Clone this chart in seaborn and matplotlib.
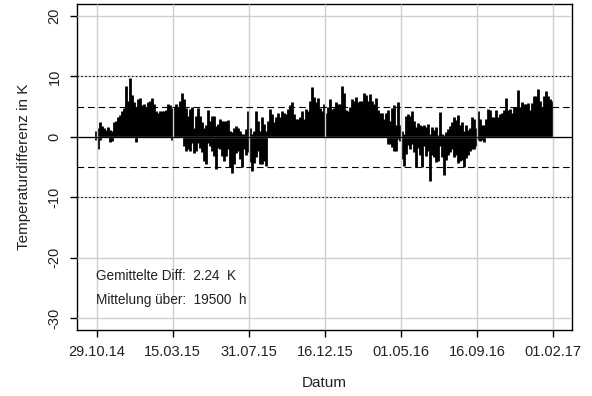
import numpy as np
import pandas as pd
import matplotlib
matplotlib.use("Agg")
import matplotlib.pyplot as plt
import seaborn as sns

# ---------------- data ----------------
start_date = "2014-10-27"
end_date = "2017-01-30"

upper = [
    1.0, 1.5, 2.5, 1.8, 1.5, 1.2, 1.6, 1.2, 1.0, 2.5,
    2.6, 3.3, 3.6, 4.2, 4.8, 8.4, 6.0, 9.8, 7.0, 5.7,
    5.0, 6.2, 6.5, 5.2, 5.5, 5.0, 5.8, 6.0, 6.5, 5.5,
    4.3, 4.0, 4.2, 4.3, 4.2, 4.5, 5.4, 5.2, 4.8, 5.0,
    5.5, 5.0, 6.0, 7.2, 6.3, 4.8, 3.5, 4.6, 4.9, 1.5,
    3.5, 4.8, 3.5, 2.5, 1.5, 2.0, 4.4, 2.7, 3.5, 3.5,
    1.8, 2.1, 2.9, 2.6, 2.6, 2.6, 2.8, 1.0, 0.8, 1.5,
    1.8, 1.5, 1.0, 0.5, 0.5, 1.3, 4.3, 1.5, 0.5, 1.0,
    4.3, 2.6, 1.0, 3.2, 2.1, 1.0, 2.6, 4.6, 3.7, 2.4,
    3.2, 4.0, 3.2, 4.3, 4.0, 3.7, 4.6, 5.2, 5.7, 3.7,
    2.9, 2.9, 3.2, 4.3, 2.9, 4.6, 4.3, 6.0, 8.2, 6.6,
    5.7, 6.5, 4.8, 4.3, 5.4, 3.9, 5.0, 6.2, 4.6, 4.8,
    5.7, 5.4, 5.5, 8.4, 7.3, 4.5, 4.3, 5.0, 6.3, 5.9,
    6.6, 5.8, 6.0, 6.0, 7.3, 7.0, 6.0, 7.1, 6.0, 5.5,
    6.4, 4.5, 4.0, 4.0, 3.0, 4.0, 4.5, 2.6, 4.7, 5.3,
    2.0, 5.7, 2.0, 1.0, 0.5, 3.5, 3.7, 3.5, 4.2, 2.6,
    1.7, 2.3, 2.0, 1.8, 1.9, 1.6, 2.2, 0.5, 1.6, 1.2,
    1.7, 0.3, 4.1, 0.5, 0.3, 0.8, 1.3, 1.8, 2.5, 3.3,
    2.8, 3.6, 2.0, 2.5, 1.0, 2.0, 1.2, 1.4, 3.2, 3.0,
    1.5, 4.2, 3.0, 2.0, 1.9, 3.0, 4.6, 4.5, 3.3, 3.3,
    4.5, 3.3, 3.7, 3.9, 4.4, 6.4, 4.5, 4.6, 4.0, 5.0,
    5.0, 7.7, 5.0, 5.7, 5.4, 5.4, 5.6, 4.4, 5.6, 6.8,
    6.8, 8.0, 6.0, 5.0, 6.8, 7.6, 6.8, 6.3, 6.0,
]

lower = [
    -0.5, -2.0, -0.5, 0, 0, 0, 0, -0.8, -0.7, 0,
    0, 0, 0, 0, 0, 0, 0, 0, 0, 0,
    -0.8, 0, 0, 0, 0, 0, 0, 0, 0, 0,
    0, 0, 0, 0, 0, 0, 0, 0, -0.5, 0,
    0, 0, 0, 0, -1.5, -2.3, -2.0, -2.4, -1.0, -2.7,
    -2.3, -1.0, -1.8, -2.5, -4.0, -4.5, -1.0, -1.5, -2.3, -3.1,
    -5.3, -1.8, -2.0, -3.1, -4.0, -3.1, -2.0, -5.0, -6.0, -4.5,
    -2.6, -2.3, -3.7, -5.0, -2.0, -3.0, -2.5, -4.2, -5.7, -4.4,
    -3.4, -2.3, -4.5, -4.5, -4.0, -4.8, 0, 0, 0, 0,
    0, 0, 0, 0, 0, 0, 0, 0, 0, 0,
    0, 0, 0, 0, 0, 0, 0, 0, 0, 0,
    0, 0, 0, 0, 0, 0, 0, 0, 0, 0,
    0, 0, 0, 0, 0, 0, 0, 0, 0, 0,
    0, 0, 0, 0, 0, 0, 0, 0, 0, 0,
    0, 0, 0, 0, 0, 0, -1.2, -1.2, -1.7, -2.3,
    -2.3, -0.3, -0.7, -3.6, -4.8, -2.9, -1.4, -2.0, -1.2, -2.5,
    -5.0, -1.8, -3.0, -5.0, -1.5, -3.1, -2.3, -7.3, -3.0, -3.3,
    -4.2, -4.0, -1.5, -3.3, -6.3, -3.8, -3.0, -2.5, -2.0, -3.3,
    -3.0, -4.3, -4.0, -3.8, -5.0, -3.5, -3.0, -2.3, -2.0, -2.0,
    -1.5, -0.5, -0.7, -0.6, -0.8, 0, 0, 0, 0, 0,
    0, 0, 0, 0, 0, 0, 0, 0, 0, 0,
    0, 0, 0, 0, 0, 0, 0, 0, 0, 0,
    0, 0, 0, 0, 0, 0, 0, 0, 0,
]

tick_labels = ["29.10.14", "15.03.15", "31.07.15", "16.12.15",
               "01.05.16", "16.09.16", "01.02.17"]
y_ticks = [20, 10, 0, -10, -20, -30]
mean_diff = "2.24"
avg_hours = "19500"

# ---------------- figure ----------------
sns.set_theme(style="white")
plt.rcParams["font.family"] = ["Liberation Sans", "DejaVu Sans"]
plt.rcParams["lines.solid_capstyle"] = "butt"

dates = pd.date_range(start_date, end_date, periods=len(upper))
rows = []
uid = 0
for d, u, l in zip(dates, upper, lower):
    for v in (u, l):
        if v != 0:
            rows.append((d, 0.0, uid))
            rows.append((d, v, uid))
            uid += 1
df = pd.DataFrame(rows, columns=["Datum", "Diff", "unit"])

fig = plt.figure(figsize=(5.92, 3.96), dpi=100)
fig.patch.set_facecolor("white")
ax = fig.add_axes([77 / 592, 1 - 330 / 396, (572 - 77) / 592, (330 - 4) / 396])
ax.set_facecolor("white")

sns.lineplot(data=df, x="Datum", y="Diff", units="unit", estimator=None,
             sort=False, color="black", linewidth=2.0, ax=ax, legend=False)

tick_dates = pd.to_datetime(tick_labels, format="%d.%m.%y")
ax.set_xlim(pd.Timestamp("2014-09-23"), pd.Timestamp("2017-03-07"))
ax.set_ylim(-32, 22)
ax.set_xticks(tick_dates)
ax.set_xticklabels(tick_labels)
ax.set_yticks(y_ticks)
ax.set_yticklabels([str(v) for v in y_ticks])

# grid (light gray, above data as in R's grid())
for td in tick_dates:
    ax.axvline(td, color="#cfcfcf", lw=1.0, zorder=3)
for yv in y_ticks:
    ax.axhline(yv, color="#cfcfcf", lw=1.0, zorder=3)

# reference lines
ax.axhline(0, color="black", lw=0.9, zorder=4)
for yv in (10, -10):
    ax.axhline(yv, color="black", lw=0.8, dashes=(1.3, 2.2), zorder=4)
for yv in (5, -5):
    ax.axhline(yv, color="black", lw=0.8, dashes=(6.0, 3.5), zorder=4)

for sp in ax.spines.values():
    sp.set_visible(True)
    sp.set_color("black")
    sp.set_linewidth(1.0)

ax.tick_params(axis="both", direction="out", length=5, width=1.0,
               color="black", labelcolor="#222222", labelsize=10.5,
               bottom=True, left=True)
ax.tick_params(axis="x", pad=6)
ax.tick_params(axis="y", pad=6)
for lbl in ax.get_yticklabels():
    lbl.set_rotation(90)
    lbl.set_va("center")
    lbl.set_ha("right")

ax.set_xlabel("Datum", fontsize=11, color="#222222", labelpad=12)
ax.set_ylabel("Temperaturdifferenz in K", fontsize=11, color="#222222",
              labelpad=12)

ax.text(dates[0] + pd.Timedelta(days=1), -23.1,
        f"Gemittelte Diff:  {mean_diff}  K", fontsize=9.8,
        ha="left", va="center", color="#222222", zorder=5)
ax.text(dates[0] + pd.Timedelta(days=1), -27.1,
        f"Mittelung über:  {avg_hours}  h", fontsize=9.8,
        ha="left", va="center", color="#222222", zorder=5)

fig.savefig("out.png", dpi=100, facecolor="white")
